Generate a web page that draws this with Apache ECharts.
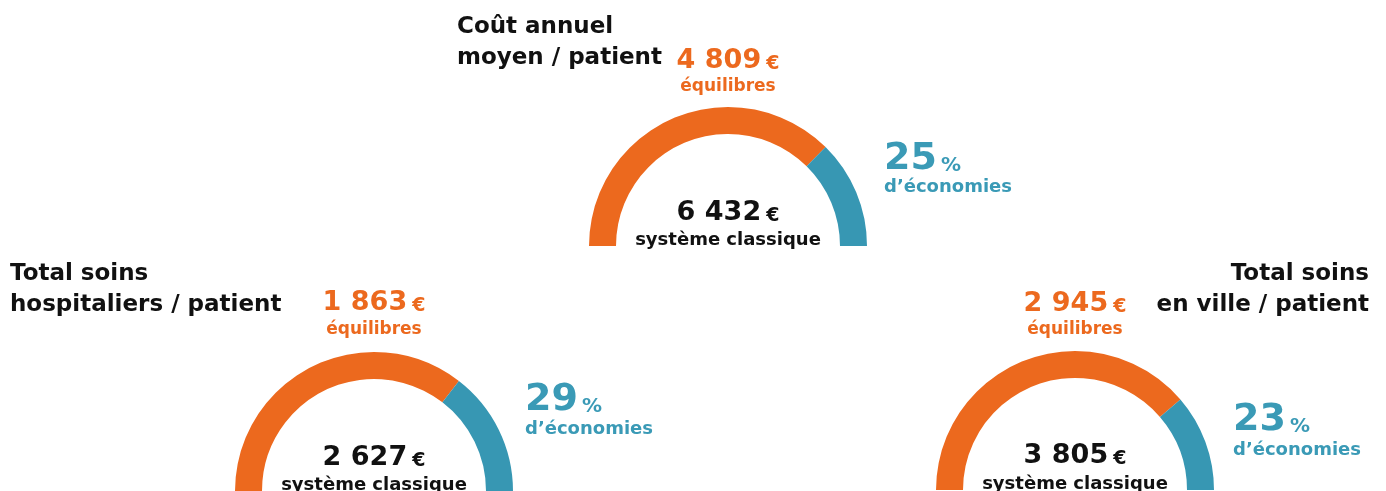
<!DOCTYPE html>
<html>
<head>
<meta charset="utf-8">
<script src="https://cdn.jsdelivr.net/npm/echarts@6/dist/echarts.min.js"></script>
<style>
html,body{margin:0;padding:0;background:#fff;}
#chart{width:1386px;height:491px;}
</style>
</head>
<body>
<div id="chart"></div>
<script>
// ---- data ----
const titles = [
  ['Coût annuel', 'moyen / patient'],
  ['Total soins', 'hospitaliers / patient'],
  ['Total soins', 'en ville / patient']
];
const equilibres = [4809, 1863, 2945];      // coût "équilibres" (€)
const classique = [6432, 2627, 3805];       // coût "système classique" (€)
const economies = [25, 29, 23];             // % d'économies
const labelEquilibres = 'équilibres';
const labelClassique = 'système classique';
const labelEconomies = 'd’économies';

// ---- styles / layout ----
const ORANGE = '#EC691E';
const TEAL = '#3797B3';
const TEAL_TXT = '#3A9AB6';
const BLACK = '#111111';
const FONT = '"DejaVu Sans", Inter, sans-serif';

const layout = [
  { cx: 728, cy: 246, titleX: 457, titleAlign: 'left', titleY: [27, 58], eqY: 61, eqLblY: 87, clY: 213, clLblY: 240, pctX: 884, pctY: 159, ecoY: 187 },
  { cx: 374, cy: 491, titleX: 10, titleAlign: 'left', titleY: [274, 305], eqY: 303, eqLblY: 330, clY: 458, clLblY: 485, pctX: 525, pctY: 400, ecoY: 429 },
  { cx: 1075, cy: 490, titleX: 1369, titleAlign: 'right', titleY: [274, 305], eqY: 304, eqLblY: 330, clY: 456, clLblY: 484, pctX: 1233, pctY: 420, ecoY: 450 }
];

function fmt(n) {
  return String(n).replace(/\B(?=(\d{3})+(?!\d))/g, ' ');
}

const series = [];
const graphic = [];

layout.forEach((L, i) => {
  series.push({
    type: 'pie',
    center: [L.cx, L.cy],
    radius: [112, 139],
    startAngle: 180,
    clockwise: true,
    silent: true,
    animation: false,
    label: { show: false },
    labelLine: { show: false },
    emphasis: { disabled: true },
    data: [
      { value: equilibres[i], itemStyle: { color: ORANGE } },
      { value: classique[i] - equilibres[i], itemStyle: { color: TEAL } },
      { value: classique[i], itemStyle: { color: 'rgba(0,0,0,0)' } }
    ]
  });

  titles[i].forEach((t, k) => {
    graphic.push({
      type: 'text', x: L.titleX, y: L.titleY[k],
      style: { text: t, font: 'bold 23px ' + FONT, fill: BLACK, align: L.titleAlign, verticalAlign: 'middle' }
    });
  });

  graphic.push({
    type: 'text', x: L.cx, y: L.eqY,
    style: {
      text: '{v|' + fmt(equilibres[i]) + '}{e|€}', align: 'center', verticalAlign: 'middle',
      rich: {
        v: { fontFamily: FONT, fontWeight: 'bold', fontSize: 27, fill: ORANGE, lineHeight: 32 },
        e: { fontFamily: FONT, fontWeight: 'bold', fontSize: 19, fill: ORANGE, lineHeight: 22, verticalAlign: 'bottom', padding: [0, 0, 3, 5] }
      }
    }
  });
  graphic.push({
    type: 'text', x: L.cx, y: L.eqLblY,
    style: { text: labelEquilibres, font: 'bold 17px ' + FONT, fill: ORANGE, align: 'center', verticalAlign: 'middle' }
  });

  graphic.push({
    type: 'text', x: L.cx, y: L.clY,
    style: {
      text: '{v|' + fmt(classique[i]) + '}{e|€}', align: 'center', verticalAlign: 'middle',
      rich: {
        v: { fontFamily: FONT, fontWeight: 'bold', fontSize: 27, fill: BLACK, lineHeight: 32 },
        e: { fontFamily: FONT, fontWeight: 'bold', fontSize: 19, fill: BLACK, lineHeight: 22, verticalAlign: 'bottom', padding: [0, 0, 3, 5] }
      }
    }
  });
  graphic.push({
    type: 'text', x: L.cx, y: L.clLblY,
    style: { text: labelClassique, font: 'bold 18px ' + FONT, fill: BLACK, align: 'center', verticalAlign: 'middle' }
  });

  graphic.push({
    type: 'text', x: L.pctX, y: L.pctY,
    style: {
      text: '{v|' + economies[i] + '}{e|%}', align: 'left', verticalAlign: 'middle',
      rich: {
        v: { fontFamily: FONT, fontWeight: 'bold', fontSize: 38, fill: TEAL_TXT, lineHeight: 44 },
        e: { fontFamily: FONT, fontWeight: 'bold', fontSize: 20, fill: TEAL_TXT, lineHeight: 22, verticalAlign: 'bottom', padding: [0, 0, 5, 4] }
      }
    }
  });
  graphic.push({
    type: 'text', x: L.pctX, y: L.ecoY,
    style: { text: labelEconomies, font: 'bold 18px ' + FONT, fill: TEAL_TXT, align: 'left', verticalAlign: 'middle' }
  });
});

const chart = echarts.init(document.getElementById('chart'), null, { renderer: 'canvas' });
chart.setOption({
  backgroundColor: '#ffffff',
  animation: false,
  series: series,
  graphic: graphic
});
</script>
</body>
</html>
